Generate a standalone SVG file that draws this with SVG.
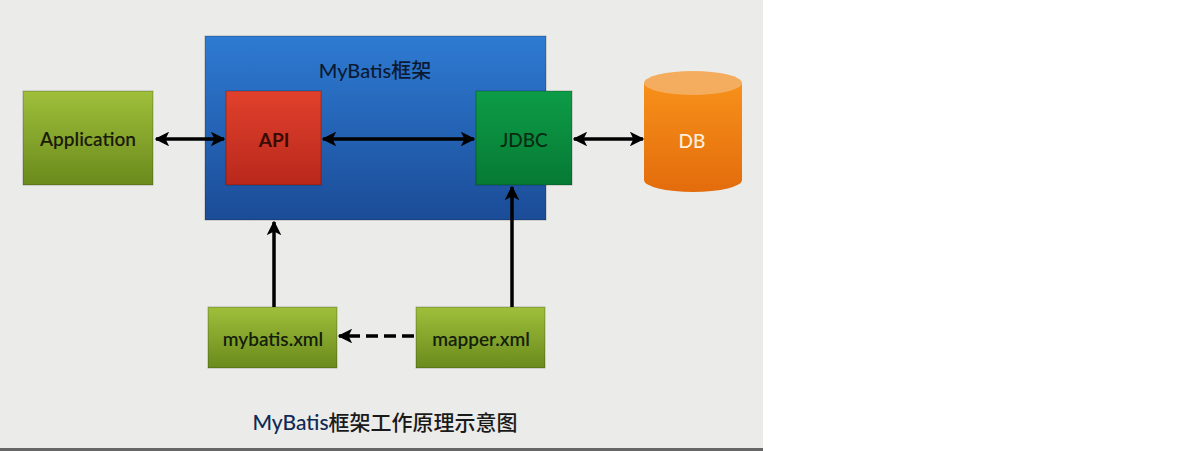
<svg xmlns="http://www.w3.org/2000/svg" width="1200" height="451" viewBox="0 0 1200 451">
<defs>
<linearGradient id="gBlue" x1="0" y1="0" x2="0" y2="1"><stop offset="0" stop-color="#2e7bd3"/><stop offset="1" stop-color="#1b4c97"/></linearGradient>
<linearGradient id="gOlive" x1="0" y1="0" x2="0" y2="1"><stop offset="0" stop-color="#9fbf3b"/><stop offset="1" stop-color="#6a8a1c"/></linearGradient>
<linearGradient id="gRed" x1="0" y1="0" x2="0" y2="1"><stop offset="0" stop-color="#e0412c"/><stop offset="1" stop-color="#b9281c"/></linearGradient>
<linearGradient id="gGreen" x1="0" y1="0" x2="0" y2="1"><stop offset="0" stop-color="#0d9c47"/><stop offset="1" stop-color="#067a34"/></linearGradient>
<linearGradient id="gOrange" x1="0" y1="0" x2="0" y2="1"><stop offset="0" stop-color="#f7901a"/><stop offset="1" stop-color="#e36c0c"/></linearGradient>
<marker id="ah" viewBox="0 0 10 10" refX="9" refY="5" markerWidth="4.2" markerHeight="4.2" orient="auto-start-reverse" markerUnits="strokeWidth"><path d="M0,0 L10,5 L0,10 L2.5,5 Z" fill="#000"/></marker>
</defs>
<style>
.box{stroke:rgba(0,0,0,0.25);stroke-width:1}
.lbl{font-family:Lato,"Open Sans","Noto Sans CJK SC",sans-serif;font-size:19px;text-anchor:middle;dominant-baseline:central}
.conn{stroke:#000;stroke-width:3.5;fill:none}
</style>
<rect x="0" y="0" width="763" height="449" fill="#ebebe9"/>
<rect x="0" y="448" width="763" height="3" fill="#666"/>
<g id="mybatis-frame">
<rect class="box" x="205" y="36" width="341" height="184" fill="url(#gBlue)"/>
<text class="lbl" x="375" y="70" fill="#0b1a33" font-weight="500" style="font-size:20px">MyBatis框架</text>
</g>
<g id="application">
<rect class="box" x="23" y="91" width="130" height="94" fill="url(#gOlive)"/>
<text class="lbl" x="88" y="138" fill="#1a1a0a" font-weight="600">Application</text>
</g>
<g id="api">
<rect class="box" x="226" y="91" width="95" height="94" fill="url(#gRed)"/>
<text class="lbl" x="274" y="139" fill="#3a0a05" font-weight="700">API</text>
</g>
<g id="jdbc">
<rect class="box" x="476" y="91" width="96" height="94" fill="url(#gGreen)"/>
<text class="lbl" x="524" y="139" fill="#0a2a12" font-weight="500">JDBC</text>
</g>
<g id="db">
<path d="M644,83 L644,180 A49,12 0 0 0 742,180 L742,83 Z" fill="url(#gOrange)"/>
<ellipse cx="693" cy="83" rx="49" ry="12" fill="#f4ad5e"/>
<text class="lbl" x="692" y="140" fill="#fdf0dc" font-weight="500">DB</text>
</g>
<g id="mybatis-xml">
<rect class="box" x="208" y="307" width="129" height="61" fill="url(#gOlive)"/>
<text class="lbl" x="273" y="338" fill="#14200a" font-weight="600">mybatis.xml</text>
</g>
<g id="mapper-xml">
<rect class="box" x="416" y="307" width="129" height="61" fill="url(#gOlive)"/>
<text class="lbl" x="481" y="338" fill="#14200a" font-weight="600">mapper.xml</text>
</g>
<g id="caption">
<text class="lbl" x="385" y="421" fill="#1a1a1a" font-weight="500" style="font-size:21px"><tspan fill="#0e2a55">MyBatis</tspan>框架工作原理示意图</text>
</g>
<g id="connectors">
<line class="conn" x1="156" y1="139" x2="224" y2="139" marker-start="url(#ah)" marker-end="url(#ah)"/>
<line class="conn" x1="323" y1="139" x2="474" y2="139" marker-start="url(#ah)" marker-end="url(#ah)"/>
<line class="conn" x1="574" y1="139" x2="643" y2="139" marker-start="url(#ah)" marker-end="url(#ah)"/>
<line class="conn" x1="274" y1="307" x2="274" y2="222" marker-end="url(#ah)"/>
<line class="conn" x1="512" y1="307" x2="512" y2="187" marker-end="url(#ah)"/>
<line class="conn" x1="414" y1="336" x2="339" y2="336" stroke-dasharray="12,6" marker-end="url(#ah)"/>
</g>
</svg>
